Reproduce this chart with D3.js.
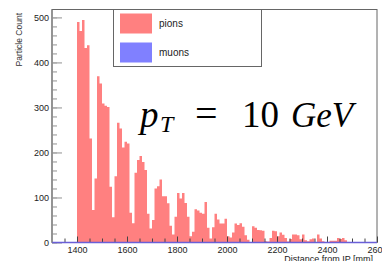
<!DOCTYPE html>
<html>
<head>
<meta charset="utf-8">
<script src="https://cdn.jsdelivr.net/npm/d3@7"></script>
<style>
  body { margin: 0; background: #fff; }
</style>
</head>
<body>
<script>
// size of the picture
var w = 382;
var h = 261;

// histogram binning (mm)
var pionStart = 1400;
var pionBinWidth = 10;
// pion counts per 10 mm bin
var pionCounts = [490, 470, 494, 432, 438, 231, 72, 142, 369, 353,
                  309, 304, 301, 124, 56, 147, 266, 253, 211, 224,
                  220, 66, 43, 155, 183, 192, 179, 161, 64, 31,
                  50, 120, 125, 140, 103, 103, 87, 37, 18, 57,
                  110, 98, 110, 88, 57, 14, 24, 74, 71, 66,
                  64, 90, 33, 9, 34, 64, 51, 42, 42, 53,
                  14, 11, 22, 42, 39, 43, 35, 16, 6, 1,
                  36, 33, 28, 27, 26, 3, 2, 10, 26, 25,
                  14, 22, 17, 10, 2, 8, 18, 18, 16, 7,
                  18, 5, 3, 7, 9, 1, 18, 9, 3, 1,
                  0, 4, 4, 4, 10, 8, 10, 5, 1];

// muons: empty histogram over the full axis
var muonStart = 1300;
var muonBinWidth = 100;
var muonCounts = [0, 0, 0, 0, 0, 0, 0, 0, 0, 0, 0, 0, 0];

// axis ticks
var xTicks = [1400, 1600, 1800, 2000, 2200, 2400, 2600];
var yTicks = [0, 100, 200, 300, 400, 500];

var legendLabels = ["pions", "muons"];
var legendColors = ["#ff8080", "#8080ff"];

var sans = "'Liberation Sans', Arial, sans-serif";
var serif = "'Liberation Serif', 'Times New Roman', serif";

var svg = d3.select("body")
            .append("svg")
            .attr("width", w)
            .attr("height", h)
            .attr("font-family", sans);

// plot frame
var pLeft = 52, pRight = 377, pTop = 9.5, pBottom = 242.5;

var x = d3.scaleLinear().domain([1300, 2600]).range([pLeft, pRight]);
var y = d3.scaleLinear().domain([0, 517.5]).range([pBottom, pTop]);

// turn bin counts into step points
function steps(start, width, counts) {
  var pts = counts.map(function(c, i) { return {x: start + i * width, v: c}; });
  pts.push({x: start + counts.length * width, v: counts[counts.length - 1]});
  return pts;
}

var pionArea = d3.area()
    .curve(d3.curveStepAfter)
    .x(function(d) { return x(d.x); })
    .y0(y(0))
    .y1(function(d) { return y(d.v); });

svg.append("path")
   .datum(steps(pionStart, pionBinWidth, pionCounts))
   .attr("fill", "#ff8080")
   .attr("d", pionArea);

// frame
svg.append("rect")
   .attr("x", pLeft).attr("y", pTop)
   .attr("width", pRight - pLeft).attr("height", pBottom - pTop)
   .attr("fill", "none")
   .attr("stroke", "#666")
   .attr("stroke-width", 1);

// y axis (ticks inside)
var yMinor = d3.range(0, 520, 20);
svg.append("g")
   .attr("transform", "translate(" + pLeft + ",0)")
   .call(d3.axisLeft(y).tickValues(yMinor).tickSizeInner(-5).tickSizeOuter(0).tickFormat(""))
   .call(function(g) { g.select(".domain").remove(); g.selectAll("line").attr("stroke", "#aaa").attr("stroke-width", 1.3); });

svg.append("g")
   .attr("transform", "translate(" + pLeft + ",0)")
   .call(d3.axisLeft(y).tickValues(yTicks).tickSizeInner(-10).tickSizeOuter(0).tickPadding(3).tickFormat(d3.format("d")))
   .call(function(g) {
     g.select(".domain").remove();
     g.selectAll("line").attr("stroke", "#aaa").attr("stroke-width", 1.3);
     g.selectAll("text").attr("font-size", 9).attr("fill", "#222").attr("font-family", sans);
   });

// x axis (ticks inside)
var xMinor = d3.range(1350, 2600, 50);
svg.append("g")
   .attr("transform", "translate(0," + pBottom + ")")
   .call(d3.axisBottom(x).tickValues(xMinor).tickSizeInner(-4).tickSizeOuter(0).tickFormat(""))
   .call(function(g) { g.select(".domain").remove(); g.selectAll("line").attr("stroke", "#444"); });

svg.append("g")
   .attr("transform", "translate(0," + pBottom + ")")
   .call(d3.axisBottom(x).tickValues(xTicks).tickSizeInner(-6).tickSizeOuter(0).tickPadding(4).tickFormat(d3.format("d")))
   .call(function(g) {
     g.select(".domain").remove();
     g.selectAll("line").attr("stroke", "#444");
     g.selectAll("text").attr("font-size", 9).attr("fill", "#222").attr("font-family", sans);
   });

// muon histogram outline (all zero) along the baseline
var muonLine = d3.line()
    .curve(d3.curveStepAfter)
    .x(function(d) { return x(d.x); })
    .y(function(d) { return y(d.v); });

svg.append("path")
   .datum(steps(muonStart, muonBinWidth, muonCounts))
   .attr("fill", "none")
   .attr("stroke", "#6a5fd8")
   .attr("stroke-width", 1.3)
   .attr("d", muonLine);

// left axis line
svg.append("line")
   .attr("x1", pLeft).attr("x2", pLeft)
   .attr("y1", pTop).attr("y2", pBottom)
   .attr("stroke", "#777");

// axis titles
svg.append("text")
   .attr("transform", "translate(22,13) rotate(-90)")
   .attr("text-anchor", "end")
   .attr("font-size", 8.5)
   .attr("fill", "#333")
   .text("Particle Count");

svg.append("text")
   .attr("x", 373).attr("y", 262)
   .attr("text-anchor", "end")
   .attr("font-size", 9)
   .attr("fill", "#222")
   .text("Distance from IP [mm]");

// legend
var legend = svg.append("g");
legend.append("rect")
   .attr("x", 113.5).attr("y", pTop)
   .attr("width", 148).attr("height", 57)
   .attr("fill", "#fff")
   .attr("stroke", "#666");

var items = legend.selectAll("g.item")
   .data(legendLabels)
   .enter()
   .append("g")
   .attr("class", "item")
   .attr("transform", function(d, i) { return "translate(120," + (13.5 + i * 29) + ")"; });

items.append("rect")
   .attr("width", 32).attr("height", 20)
   .attr("fill", function(d, i) { return legendColors[i]; });

items.append("text")
   .attr("x", 39).attr("y", 13.5)
   .attr("font-size", 10)
   .attr("fill", "#222")
   .text(function(d) { return d; });

// big label p_T = 10 GeV
svg.append("text").attr("x", 140).attr("y", 127)
   .attr("font-family", serif).attr("font-size", 37).attr("font-style", "italic")
   .text("p");
svg.append("text").attr("x", 160).attr("y", 132)
   .attr("font-family", serif).attr("font-size", 24).attr("font-style", "italic")
   .text("T");
svg.append("text").attr("x", 195).attr("y", 127)
   .attr("font-family", serif).attr("font-size", 40)
   .text("=");
svg.append("text").attr("x", 242).attr("y", 127)
   .attr("font-family", serif).attr("font-size", 37)
   .text("10");
svg.append("text").attr("x", 291).attr("y", 127)
   .attr("font-family", serif).attr("font-size", 35).attr("font-style", "italic")
   .text("GeV");
</script>
</body>
</html>
